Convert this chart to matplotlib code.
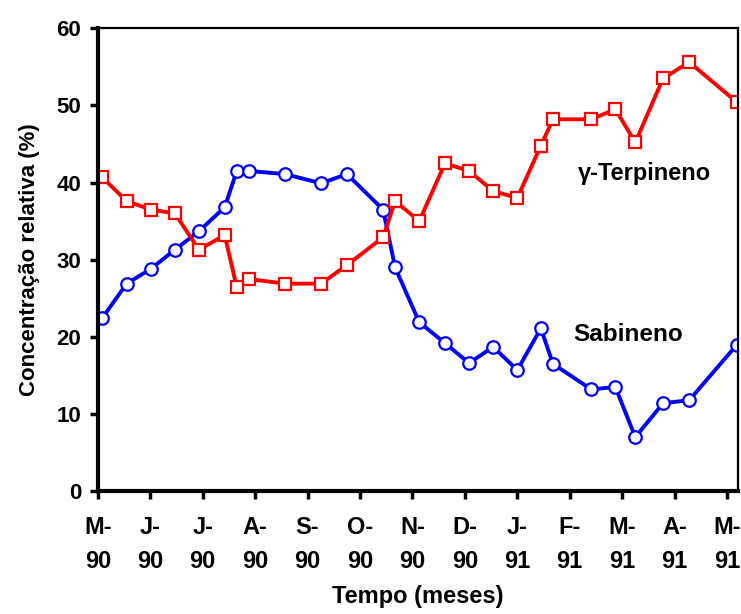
import matplotlib.pyplot as plt
import numpy as np

plt.rcParams['font.family'] = ['Liberation Sans', 'DejaVu Sans']
plt.rcParams['font.weight'] = 'bold'

# tempo de coleta em meses desde maio/90
tempo = [0.08, 0.55, 1.01, 1.47, 1.93, 2.42, 2.65, 2.88, 3.57, 4.26, 4.75, 5.44, 5.67,
         6.13, 6.62, 7.08, 7.54, 8.00, 8.45, 8.68, 9.41, 9.87, 10.25, 10.78, 11.28, 12.19]

sabineno = [22.4, 26.9, 28.8, 31.3, 33.7, 36.8, 41.5, 41.5, 41.1, 39.9, 41.1, 36.5, 29.0,
            21.9, 19.2, 16.6, 18.7, 15.7, 21.1, 16.5, 13.2, 13.5, 7.0, 11.4, 11.8, 19.0]

terpineno = [40.7, 37.6, 36.5, 36.0, 31.3, 33.2, 26.4, 27.5, 26.9, 26.9, 29.3, 32.9, 37.6,
             35.0, 42.5, 41.5, 38.9, 38.0, 44.8, 48.2, 48.2, 49.5, 45.2, 53.5, 55.6, 50.4]

meses = ['M-\n90', 'J-\n90', 'J-\n90', 'A-\n90', 'S-\n90', 'O-\n90', 'N-\n90',
         'D-\n90', 'J-\n91', 'F-\n91', 'M-\n91', 'A-\n91', 'M-\n91']

fig = plt.figure(figsize=(7.41, 6.14), dpi=100)
ax = fig.add_axes([0.132, 0.2, 0.864, 0.754])

ax.plot(tempo, sabineno, '-o', color='#0000ff', lw=2.8, ms=9,
        mfc='white', mec='#0000ff', mew=1.6)
ax.plot(tempo, terpineno, '-s', color='#ff0000', lw=2.8, ms=9,
        mfc='white', mec='#ff0000', mew=1.6)

ax.set_xlim(0, 12.21)
ax.set_ylim(0, 60)
ax.set_yticks(np.arange(0, 61, 10))
ax.set_xticks(np.arange(len(meses)))

ax.tick_params(axis='both', width=2.5, length=6, direction='out')
ax.tick_params(axis='x', pad=12)
ax.tick_params(axis='y', pad=6, labelsize=16)
ax.set_xticklabels(meses, fontsize=17, fontweight='bold', linespacing=1.6)
for s in ['left', 'bottom']:
    ax.spines[s].set_linewidth(3)
for s in ['top', 'right']:
    ax.spines[s].set_linewidth(1.6)

ax.set_xlabel('Tempo (meses)', fontsize=17, fontweight='bold', labelpad=9)
ax.set_ylabel('Concentração relativa (%)', fontsize=16, fontweight='bold', labelpad=12)

ax.text(9.15, 41.2, 'γ-Terpineno', fontsize=17, fontweight='bold', ha='left', va='center',
        family=['Liberation Sans', 'DejaVu Sans'])
ax.text(9.07, 20.3, 'Sabineno', fontsize=17.5, fontweight='bold', ha='left', va='center')

fig.savefig('out.png', dpi=100)
